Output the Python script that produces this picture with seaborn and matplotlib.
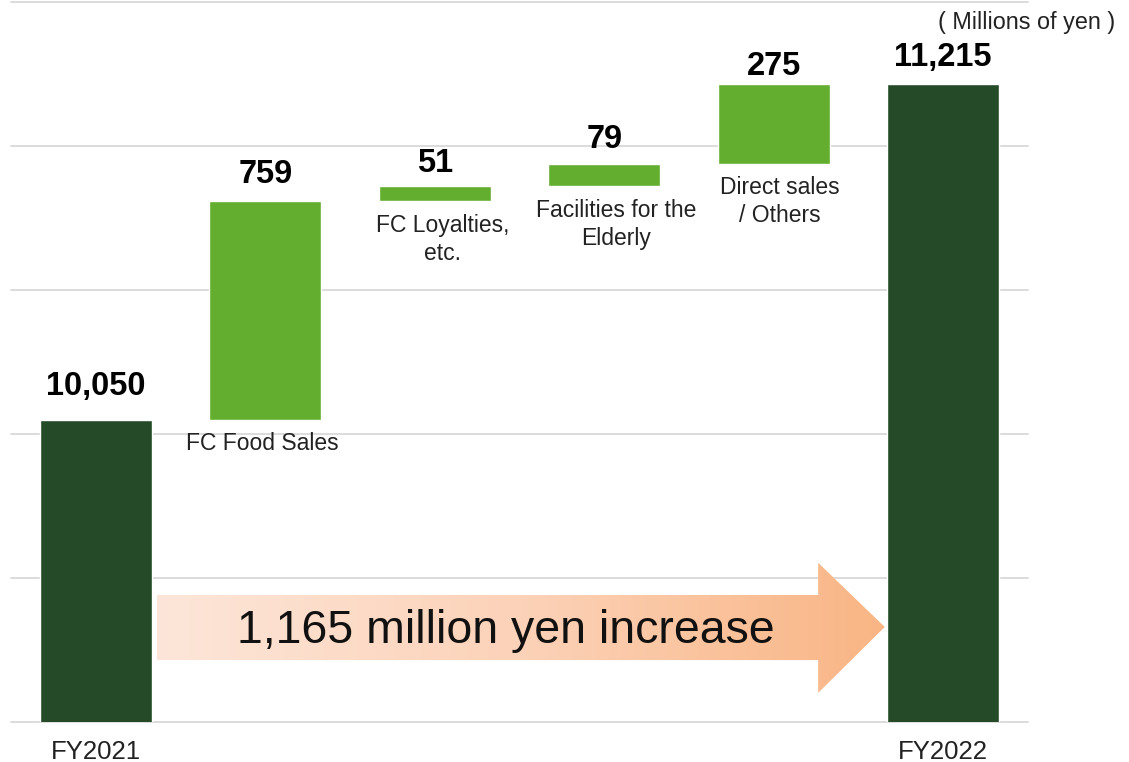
import numpy as np
import pandas as pd
import seaborn as sns
import matplotlib.pyplot as plt
from matplotlib.patches import Polygon
from matplotlib.colors import LinearSegmentedColormap

# ---- data -------------------------------------------------------------
categories = ["FY2021", "FC Food Sales", "FC Loyalties,\netc.",
              "Facilities for the\nElderly", "Direct sales\n/ Others", "FY2022"]
total_items = ["FY2021", "FY2022"]
total_values = [10050, 11215]
change_items = ["FC Food Sales", "FC Loyalties,\netc.",
                "Facilities for the\nElderly", "Direct sales\n/ Others"]
change_values = [759, 51, 79, 275]
value_labels = ["10,050", "759", "51", "79", "275", "11,215"]
increase_text = "1,165 million yen increase"
unit_text = "( Millions of yen )"

# running base for each increment bar
change_bases = total_values[0] + np.concatenate([[0], np.cumsum(change_values)[:-1]])

df_tot = pd.DataFrame({"item": total_items, "value": total_values})
df_chg = pd.DataFrame({"item": change_items, "change": change_values,
                       "base": change_bases})

# ---- style ------------------------------------------------------------
sns.set_theme(style="white")
plt.rcParams["font.family"] = ["Liberation Sans", "DejaVu Sans"]

DARK = "#254A27"
LIGHT = "#63AE2F"
GRID = "#D9D9D9"
TEXT = "#222222"

fig = plt.figure(figsize=(11.29, 7.62), dpi=100)
ax = fig.add_axes([11 / 1129, 1 - 722 / 762, (1028 - 11) / 1129, (722 - 2) / 762])

BAR_W = 0.66
sns.barplot(data=df_tot, x="item", y="value", order=categories, color=DARK,
            width=BAR_W, errorbar=None, saturation=1, ax=ax, zorder=3)
sns.barplot(data=df_chg, x="item", y="change", order=categories, color=LIGHT,
            width=BAR_W, errorbar=None, saturation=1, ax=ax, zorder=3,
            bottom=df_chg["base"].values)

ax.set_xlim(-0.5, 5.5)
ax.set_ylim(9000, 11500)
ax.set_yticks(np.arange(9000, 11501, 500))
ax.yaxis.grid(True, color=GRID, linewidth=1.3, zorder=0)
ax.xaxis.grid(False)
ax.set_axisbelow(True)
for gl in ax.get_ygridlines():
    gl.set_clip_on(False)
ax.tick_params(axis="y", left=False, labelleft=False)
ax.tick_params(axis="x", bottom=False, pad=7)
for s in ax.spines.values():
    s.set_visible(False)
ax.set_xlabel("")
ax.set_ylabel("")

# only the two year columns carry axis labels
pos = {c: i for i, c in enumerate(categories)}
ax.set_xticks([pos[c] for c in total_items])
ax.set_xticklabels(total_items, fontsize=18.5, color=TEXT)

# ---- value labels -----------------------------------------------------
tops = {c: v for c, v in zip(total_items, total_values)}
for c, b, v in zip(change_items, change_bases, change_values):
    tops[c] = b + v
label_gap = {"FY2021": 18, "FC Food Sales": 11, "FC Loyalties,\netc.": 7,
             "Facilities for the\nElderly": 9, "Direct sales\n/ Others": 2,
             "FY2022": 11}
for c, lab in zip(categories, value_labels):
    ax.annotate(lab, (pos[c], tops[c]), xytext=(0, label_gap[c] * 0.72),
                textcoords="offset points", ha="center", va="bottom",
                fontsize=23.5, fontweight="bold", color="black", zorder=5)

# category names under the increment bars
name_dx = {"FC Food Sales": -3, "FC Loyalties,\netc.": 8,
           "Facilities for the\nElderly": 12, "Direct sales\n/ Others": 6}
for c, b in zip(change_items, change_bases):
    ax.annotate(c, (pos[c], b), xytext=(name_dx[c] * 0.72, -9),
                textcoords="offset points", ha="center", va="top",
                fontsize=16.5, color=TEXT, linespacing=1.3, zorder=5)

# ---- gradient arrow ---------------------------------------------------
x0, xb, xt = 0.36, 4.262, 4.655
yb_lo, yb_hi = 9215, 9441
yh_lo, yh_hi, y_tip = 9101, 9553, 9330
arrow = Polygon([(x0, yb_lo), (xb, yb_lo), (xb, yh_lo), (xt, y_tip),
                 (xb, yh_hi), (xb, yb_hi), (x0, yb_hi)],
                closed=True, facecolor="none", edgecolor="none",
                transform=ax.transData)
ax.add_patch(arrow)
cmap = LinearSegmentedColormap.from_list("peach", ["#FDE6D9", "#FCD2B8", "#F9B584"])
grad = np.linspace(0, 1, 256).reshape(1, -1)
img = ax.imshow(grad, cmap=cmap, aspect="auto", extent=(x0, xt, yh_lo, yh_hi),
                origin="lower", zorder=2, interpolation="bicubic")
img.set_clip_path(arrow)
ax.set_xlim(-0.5, 5.5)
ax.set_ylim(9000, 11500)
ax.text(2.42, 9316, increase_text, ha="center", va="center", fontsize=33.5,
        color="#111111", zorder=4)

# unit note
fig.text(1115 / 1129, 1 - 23 / 762, unit_text, ha="right", va="center",
         fontsize=16.8, color=TEXT)

fig.savefig("out.png", dpi=100)
